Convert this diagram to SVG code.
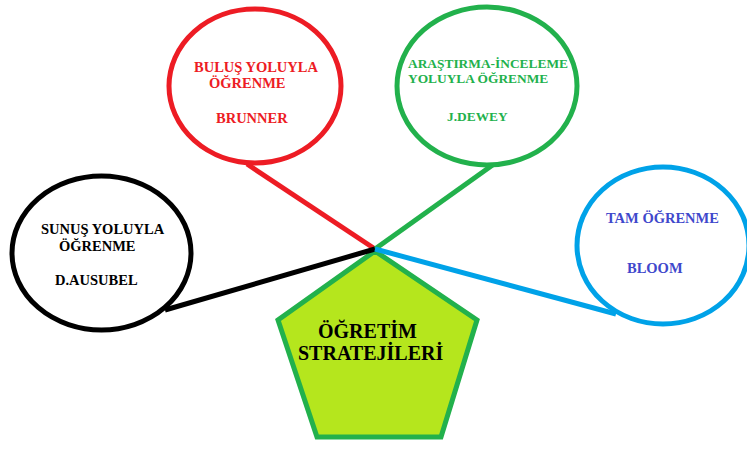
<svg xmlns="http://www.w3.org/2000/svg" width="747" height="450" viewBox="0 0 747 450">
<style>
.c{fill:#fff;stroke-width:5}
.ln{stroke-width:5;fill:none}
text{font-family:"Liberation Serif","Times New Roman",serif;font-weight:bold}
.s{font-size:14.5px}
.g{font-size:13.4px}
.big{font-size:20px;fill:#000}
</style>
<rect width="747" height="450" fill="#fff"/>
<g id="center">
<polygon points="375,251 477,320 441,437 317,437 278,320" fill="#b5e61d" stroke="#22b14c" stroke-width="5" stroke-linejoin="miter"/>
<text class="big" x="318" y="338">ÖĞRETİM</text>
<text class="big" x="298" y="360">STRATEJİLERİ</text>
</g>
<g id="connectors">
<line class="ln" x1="375" y1="249" x2="247" y2="164" stroke="#ed1c24"/>
<line class="ln" x1="375" y1="249" x2="494" y2="164" stroke="#22b14c"/>
<line class="ln" x1="375" y1="249" x2="165" y2="310" stroke="#000"/>
<line class="ln" x1="375" y1="249" x2="616" y2="314" stroke="#00a2e8"/>
</g>
<g id="bulus">
<ellipse class="c" cx="255" cy="86" rx="86" ry="77" stroke="#ed1c24"/>
<text class="s" fill="#ed1c24" x="194" y="72">BULUŞ YOLUYLA</text>
<text class="s" fill="#ed1c24" x="209" y="88">ÖĞRENME</text>
<text class="s" fill="#ed1c24" x="216" y="123">BRUNNER</text>
</g>
<g id="arastirma">
<ellipse class="c" cx="487" cy="86" rx="90" ry="79" stroke="#22b14c"/>
<text class="g" fill="#22b14c" x="408" y="68">ARAŞTIRMA-İNCELEME</text>
<text class="g" fill="#22b14c" x="408" y="83">YOLUYLA ÖĞRENME</text>
<text class="g" fill="#22b14c" x="447" y="121">J.DEWEY</text>
</g>
<g id="sunus">
<ellipse class="c" cx="101.5" cy="253" rx="89.5" ry="77" stroke="#000"/>
<text class="s" fill="#000" x="41" y="234">SUNUŞ YOLUYLA</text>
<text class="s" fill="#000" x="59" y="251">ÖĞRENME</text>
<text class="s" fill="#000" x="55" y="285">D.AUSUBEL</text>
</g>
<g id="tam">
<ellipse class="c" cx="663" cy="245.5" rx="86" ry="78.5" stroke="#00a2e8"/>
<text class="s" fill="#3f48cc" x="606" y="223">TAM ÖĞRENME</text>
<text class="s" fill="#3f48cc" x="627" y="273">BLOOM</text>
</g>
</svg>
